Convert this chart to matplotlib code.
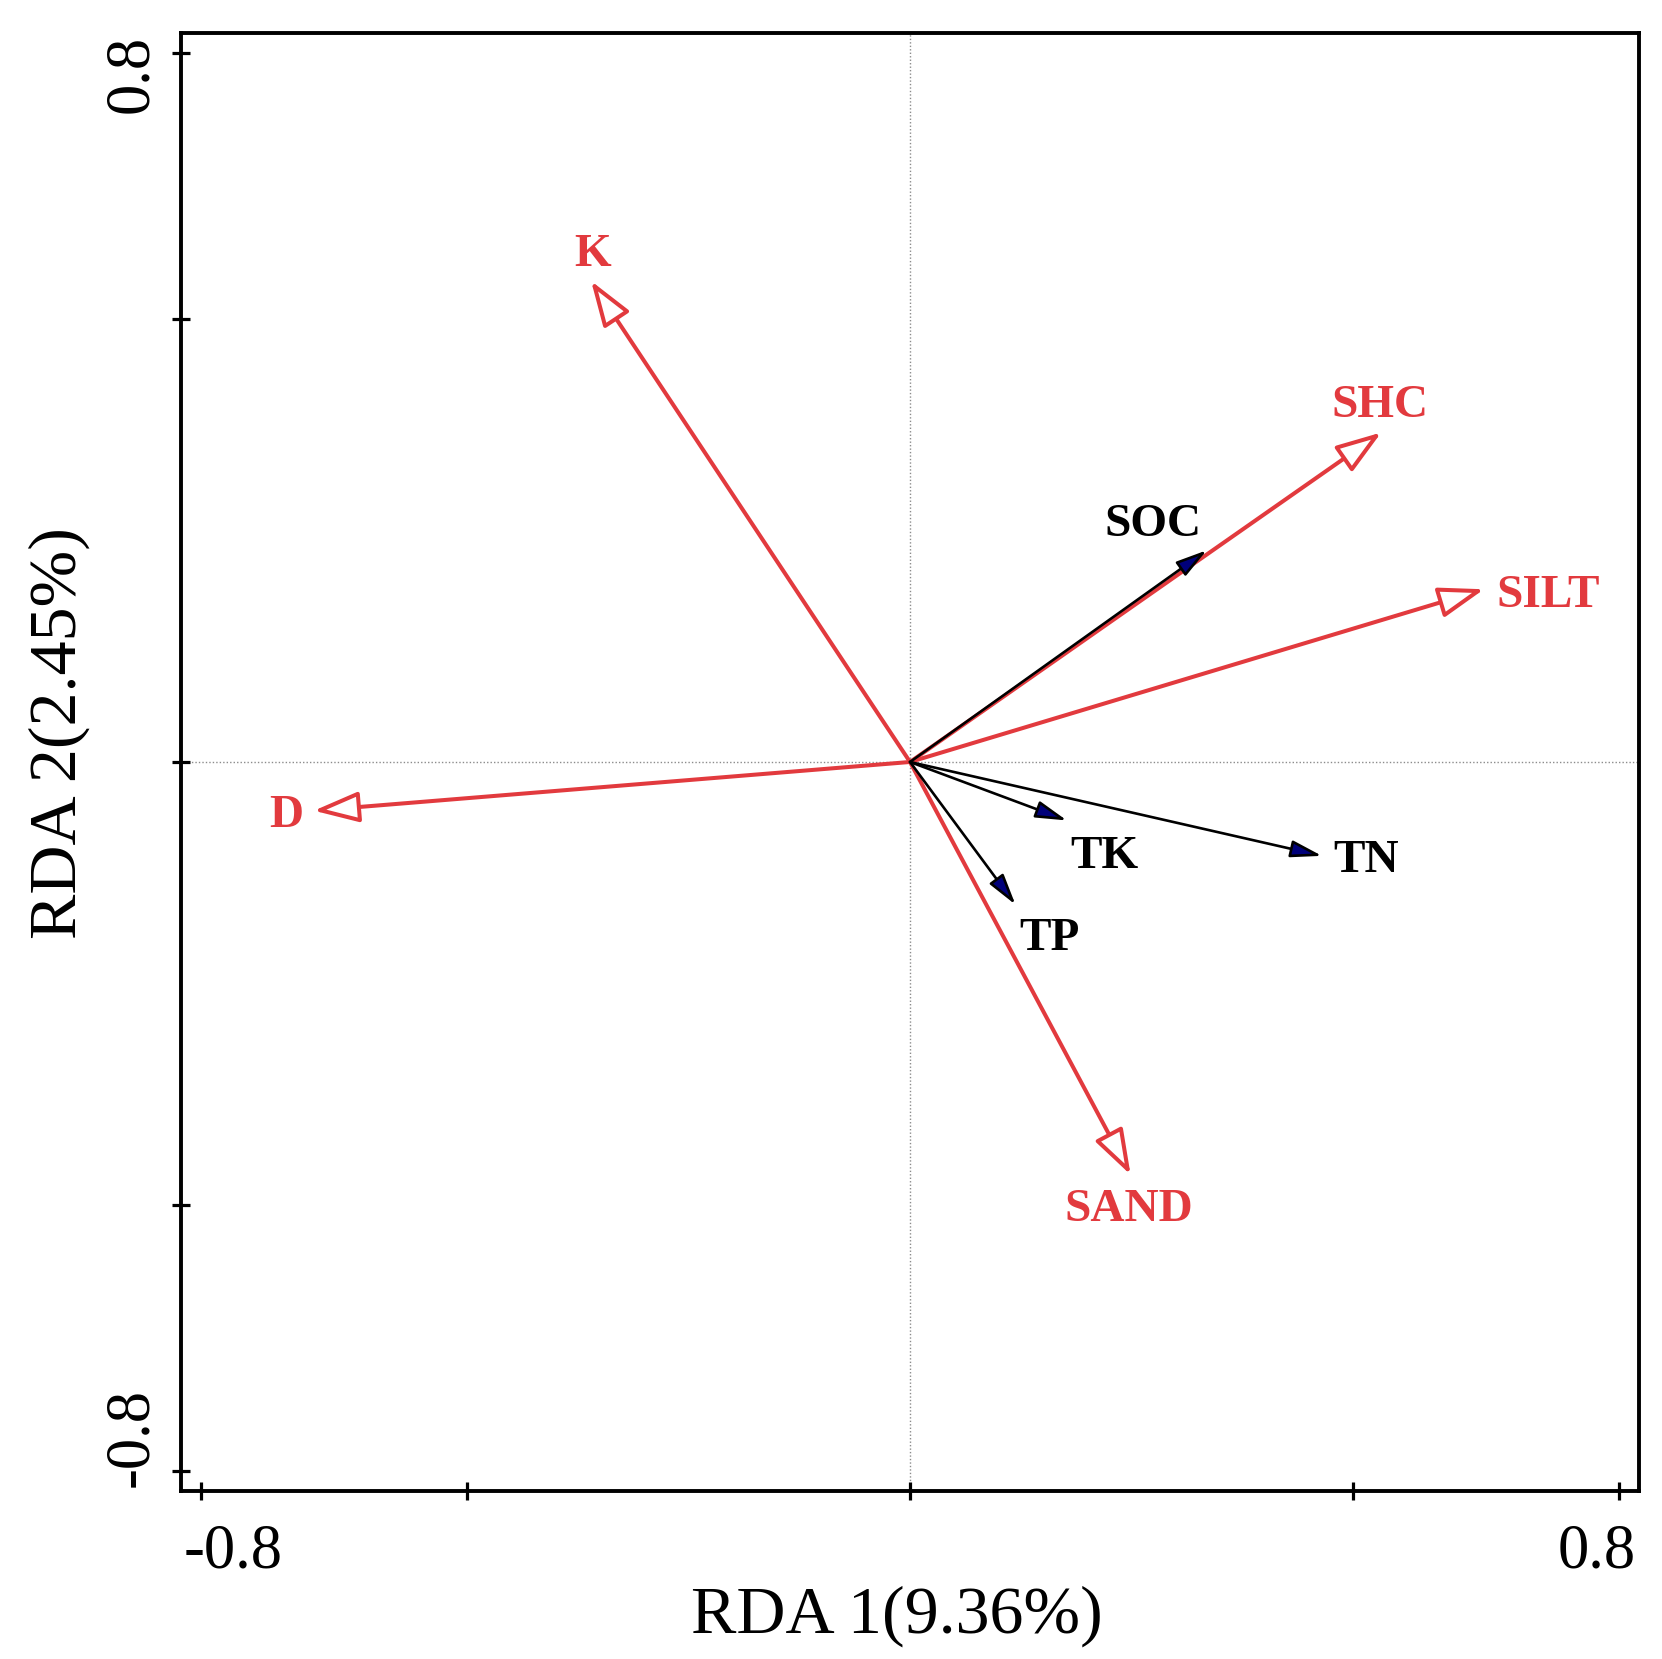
import matplotlib
matplotlib.use("Agg")
import matplotlib.pyplot as plt

plt.rcParams['font.family'] = ['Liberation Serif', 'DejaVu Serif']

# RDA biplot vectors (arrow tips)
env_names = ['K', 'SHC', 'SILT', 'D', 'SAND']
env_x = [-0.360, 0.532, 0.648, -0.673, 0.249]
env_y = [0.543, 0.372, 0.195, -0.055, -0.466]

nut_names = ['SOC', 'TK', 'TN', 'TP']
nut_x = [0.335, 0.177, 0.465, 0.119]
nut_y = [0.239, -0.066, -0.106, -0.161]

xlabel = 'RDA 1(9.36%)'
ylabel = 'RDA 2(2.45%)'
ticks_x = [-0.8, -0.5, 0, 0.5, 0.8]
ticks_y = [-0.8, -0.5, 0, 0.5, 0.8]
lim = 0.823

RED = '#E23A3E'
NAVY = '#00007A'

# label placement relative to arrow tip: (dx pt, dy pt, ha)
label_offsets = {
    'K': (1, 10.6, 'center'),
    'SHC': (-1, 11, 'center'),
    'SILT': (9, -12.7, 'left'),
    'D': (-8, -11.7, 'right'),
    'SAND': (-1, -33, 'center'),
    'SOC': (-39, 10, 'center'),
    'TK': (27, -34.6, 'center'),
    'TN': (8, -11.5, 'left'),
    'TP': (24.5, -33, 'center'),
}

fig = plt.figure(figsize=(16.62, 16.59), dpi=100)
ax = fig.add_axes([0.1089, 0.1013, 0.8773, 0.8788])
ax.set_xlim(-lim, lim)
ax.set_ylim(-lim, lim)

# dotted cross through origin
ax.axhline(0, color='#8c8c8c', lw=1.0, ls=(0, (1, 1.5)), zorder=1)
ax.axvline(0, color='#8c8c8c', lw=1.0, ls=(0, (1, 1.5)), zorder=1)

# red vectors with open heads
for name, x, y in zip(env_names, env_x, env_y):
    ax.annotate('', xy=(x, y), xytext=(0, 0),
                arrowprops=dict(arrowstyle='-|>,head_length=28,head_width=9.5',
                                mutation_scale=1, fc='white', ec=RED, lw=2.9,
                                shrinkA=0, shrinkB=0),
                zorder=3)
    dx, dy, ha = label_offsets[name]
    ax.annotate(name, xy=(x, y), xytext=(dx, dy), textcoords='offset points',
                ha=ha, va='baseline', fontsize=34, fontweight='bold', color=RED)

# black vectors with filled heads
for name, x, y in zip(nut_names, nut_x, nut_y):
    ax.annotate('', xy=(x, y), xytext=(0, 0),
                arrowprops=dict(arrowstyle='-|>,head_length=19,head_width=5.2',
                                mutation_scale=1, fc=NAVY, ec='black', lw=1.9,
                                shrinkA=0, shrinkB=0),
                zorder=4)
    dx, dy, ha = label_offsets[name]
    ax.annotate(name, xy=(x, y), xytext=(dx, dy), textcoords='offset points',
                ha=ha, va='baseline', fontsize=34, fontweight='bold', color='black')

# axes frame and ticks
for sp in ax.spines.values():
    sp.set_linewidth(2.8)
    sp.set_color('black')
ax.set_xticks(ticks_x)
ax.set_yticks(ticks_y)
ax.tick_params(direction='inout', length=13, width=2.3, labelbottom=False, labelleft=False)

# only the end ticks carry labels
ax.annotate('-0.8', xy=(ticks_x[0], 0), xycoords=ax.get_xaxis_transform(),
            xytext=(-13, -55), textcoords='offset points', ha='left', va='baseline', fontsize=45)
ax.annotate('0.8', xy=(ticks_x[-1], 0), xycoords=ax.get_xaxis_transform(),
            xytext=(12, -55), textcoords='offset points', ha='right', va='baseline', fontsize=45)
ax.annotate('0.8', xy=(0, ticks_y[-1]), xycoords=ax.get_yaxis_transform(),
            xytext=(-24.5, 13), textcoords='offset points', ha='right', va='baseline',
            rotation=90, rotation_mode='anchor', fontsize=45)
ax.annotate('-0.8', xy=(0, ticks_y[0]), xycoords=ax.get_yaxis_transform(),
            xytext=(-24.5, -11.5), textcoords='offset points', ha='left', va='baseline',
            rotation=90, rotation_mode='anchor', fontsize=45)

ax.set_xlabel(xlabel, fontsize=49)
ax.xaxis.label.set_va('baseline')
ax.xaxis.set_label_coords(0.491, -142 / 1458)
ax.set_ylabel(ylabel, fontsize=49)
ax.yaxis.label.set_va('baseline')
ax.yaxis.set_label_coords(-105 / 1458, 0.52)

fig.savefig('out.png', dpi=100)
